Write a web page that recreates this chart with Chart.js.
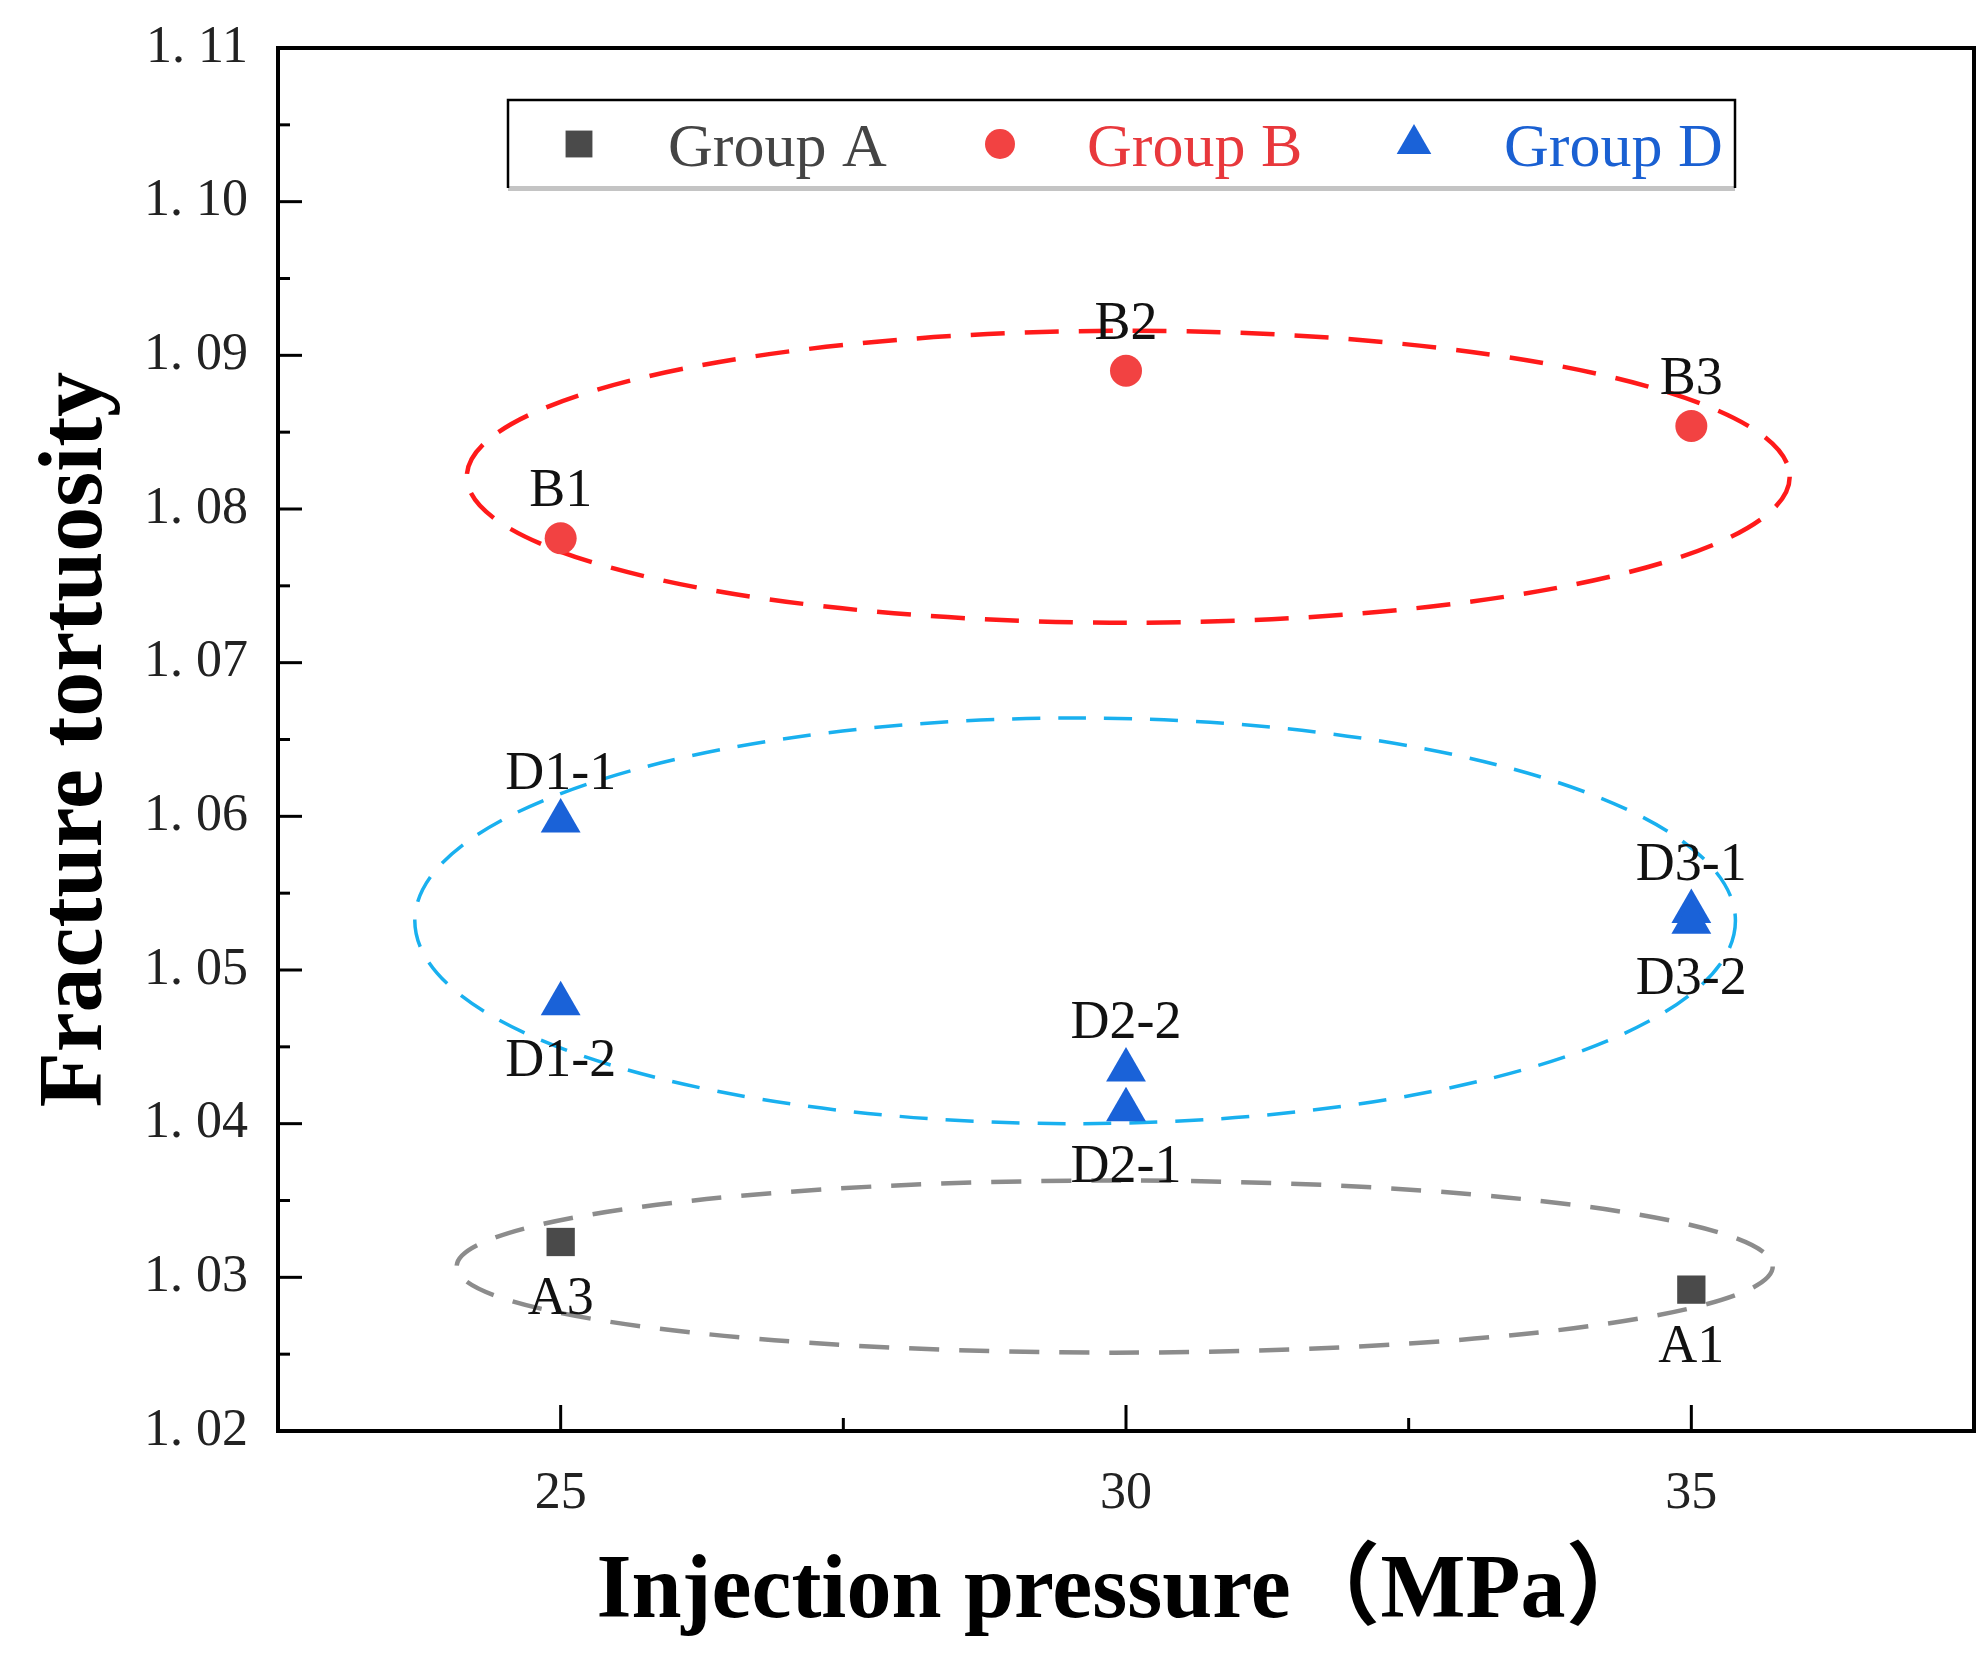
<!DOCTYPE html>
<html><head><meta charset="utf-8">
<script src="https://cdn.jsdelivr.net/npm/chart.js@4.4.1/dist/chart.umd.min.js"></script>
<style>html,body{margin:0;padding:0;background:#fff;} #wrap{width:1987px;height:1658px;}</style>
</head><body><div id="wrap"><canvas id="c" width="1987" height="1658"></canvas></div>
<script>
// ---- data ----
const yTickValues = [1.02, 1.03, 1.04, 1.05, 1.06, 1.07, 1.08, 1.09, 1.10, 1.11];
const xTickValues = [25, 30, 35];
const xMin = 22.5, xMax = 37.5;

const aPressure = [35, 25];
const aTortuosity = [1.0292, 1.0323];
const aNames = ['A1', 'A3'];
const aSides = ['below', 'below'];

const bPressure = [25, 30, 35];
const bTortuosity = [1.0781, 1.0890, 1.0854];
const bNames = ['B1', 'B2', 'B3'];
const bSides = ['above', 'above', 'above'];

const dPressure = [25, 25, 30, 30, 35, 35];
const dTortuosity = [1.0597, 1.0478, 1.0409, 1.0435, 1.0538, 1.0531];
const dNames = ['D1-1', 'D1-2', 'D2-1', 'D2-2', 'D3-1', 'D3-2'];
const dSides = ['above', 'below', 'below', 'above', 'above', 'below'];

// grouping ellipses (gray A, red B, cyan D)
const ellipseCenterX = [29.90, 30.02, 29.55];
const ellipseCenterY = [1.0307, 1.0821, 1.0532];
const ellipseRadiusX = [5.82, 5.85, 5.84];
const ellipseRadiusY = [0.0056, 0.0095, 0.0132];

// ---- styles ----
const SERIF = "'Liberation Serif', 'Times New Roman', 'Noto Sans CJK SC', serif";
const ellipseColors = ['#8c8c8c', '#ff1a1a', '#19b0ef'];
const ellipseDash = [[30, 20], [34, 20], [28, 18]];
const ellipseWidth = [4.5, 4.5, 3.5];

function pts(xs, ys) { return xs.map((x, i) => ({ x: x, y: ys[i] })); }

const ellipsePlugin = {
  id: 'ellipses',
  beforeDatasetsDraw(chart) {
    const ctx = chart.ctx, xs = chart.scales.x, ys = chart.scales.y;
    ctx.save();
    for (let i = 0; i < ellipseCenterX.length; i++) {
      const cx = xs.getPixelForValue(ellipseCenterX[i]);
      const cy = ys.getPixelForValue(ellipseCenterY[i]);
      const rx = Math.abs(xs.getPixelForValue(ellipseCenterX[i] + ellipseRadiusX[i]) - cx);
      const ry = Math.abs(ys.getPixelForValue(ellipseCenterY[i] + ellipseRadiusY[i]) - cy);
      ctx.beginPath();
      ctx.setLineDash(ellipseDash[i]);
      ctx.lineWidth = ellipseWidth[i];
      ctx.strokeStyle = ellipseColors[i];
      ctx.ellipse(cx, cy, rx, ry, 0, 0, Math.PI * 2);
      ctx.stroke();
    }
    ctx.restore();
  }
};

const framePlugin = {
  id: 'frame',
  afterDraw(chart) {
    const ctx = chart.ctx, a = chart.chartArea, xs = chart.scales.x, ys = chart.scales.y;
    ctx.save();
    ctx.strokeStyle = '#000';
    ctx.lineWidth = 4;
    ctx.setLineDash([]);
    ctx.strokeRect(a.left, a.top, a.right - a.left, a.bottom - a.top);
    ctx.lineWidth = 3;
    // y ticks (inward)
    ys.ticks.forEach((t, i) => {
      const y = ys.getPixelForValue(t.value);
      ctx.beginPath(); ctx.moveTo(a.left, y); ctx.lineTo(a.left + 24, y); ctx.stroke();
      if (i < ys.ticks.length - 1) {
        const ym = ys.getPixelForValue((t.value + ys.ticks[i + 1].value) / 2);
        ctx.beginPath(); ctx.moveTo(a.left, ym); ctx.lineTo(a.left + 12, ym); ctx.stroke();
      }
    });
    // x ticks (inward) with minor ticks half-way
    xs.ticks.forEach(t => {
      const x = xs.getPixelForValue(t.value);
      ctx.beginPath(); ctx.moveTo(x, a.bottom); ctx.lineTo(x, a.bottom - 26); ctx.stroke();
    });
    for (let i = 1; i < xs.ticks.length; i++) {
      const xm = xs.getPixelForValue((xs.ticks[i - 1].value + xs.ticks[i].value) / 2);
      ctx.beginPath(); ctx.moveTo(xm, a.bottom); ctx.lineTo(xm, a.bottom - 13); ctx.stroke();
    }
    ctx.restore();
  }
};

const labelPlugin = {
  id: 'pointLabels',
  afterDatasetsDraw(chart) {
    const ctx = chart.ctx;
    ctx.save();
    ctx.font = '54px ' + SERIF;
    ctx.fillStyle = '#111';
    ctx.textAlign = 'center';
    ctx.textBaseline = 'alphabetic';
    chart.data.datasets.forEach((ds, di) => {
      const meta = chart.getDatasetMeta(di);
      meta.data.forEach((el, i) => {
        const side = ds.labelSides[i];
        const y = side === 'above' ? el.y - 32 : el.y + 72;
        ctx.fillText(ds.pointNames[i], el.x, y);
      });
    });
    ctx.restore();
  }
};

const legendPlugin = {
  id: 'boxLegend',
  afterDraw(chart) {
    const ctx = chart.ctx;
    const bx = 508, by = 100, bw = 1227, bh = 88;
    ctx.save();
    ctx.fillStyle = '#c4c4c4';
    ctx.fillRect(bx, by + bh - 2, bw, 5);
    ctx.strokeStyle = '#000';
    ctx.lineWidth = 2.5;
    ctx.setLineDash([]);
    ctx.beginPath();
    ctx.moveTo(bx, by + bh); ctx.lineTo(bx, by); ctx.lineTo(bx + bw, by); ctx.lineTo(bx + bw, by + bh);
    ctx.stroke();
    const markerX = [579, 1000, 1414];
    const textX = [668, 1087, 1504];
    const textColors = ['#444444', '#e8383c', '#1a60d2'];
    const legendRadius = [19, 15, 20];
    chart.data.datasets.forEach((ds, i) => {
      ctx.fillStyle = ds.backgroundColor;
      ctx.strokeStyle = ds.backgroundColor;
      Chart.helpers.drawPoint(ctx, { pointStyle: ds.pointStyle, radius: legendRadius[i], borderWidth: 0, rotation: 0 }, markerX[i], 144);
      ctx.font = '62px ' + SERIF;
      ctx.fillStyle = textColors[i];
      ctx.textAlign = 'left';
      ctx.textBaseline = 'alphabetic';
      ctx.fillText(ds.label, textX[i], 166);
    });
    ctx.restore();
  }
};

new Chart(document.getElementById('c'), {
  type: 'scatter',
  data: {
    datasets: [
      { label: 'Group A', data: pts(aPressure, aTortuosity), pointNames: aNames, labelSides: aSides,
        pointStyle: 'rect', radius: 20, backgroundColor: '#4a4a4a', borderColor: '#4a4a4a', borderWidth: 0 },
      { label: 'Group B', data: pts(bPressure, bTortuosity), pointNames: bNames, labelSides: bSides,
        pointStyle: 'circle', radius: 16, backgroundColor: '#f24242', borderColor: '#f24242', borderWidth: 0 },
      { label: 'Group D', data: pts(dPressure, dTortuosity), pointNames: dNames, labelSides: dSides,
        pointStyle: 'triangle', radius: 23, backgroundColor: '#1a62d8', borderColor: '#1a62d8', borderWidth: 0 }
    ]
  },
  options: {
    responsive: false,
    devicePixelRatio: 1,
    animation: false,
    layout: { autoPadding: false, padding: { top: 48, right: 13, left: 0, bottom: 0 } },
    plugins: { legend: { display: false }, tooltip: { enabled: false } },
    scales: {
      x: {
        type: 'linear', min: xMin, max: xMax,
        afterBuildTicks: s => { s.ticks = xTickValues.map(v => ({ value: v })); },
        afterFit: s => { s.height = 227; s.paddingLeft = 0; s.paddingRight = 0; },
        grid: { display: false, drawTicks: false },
        border: { display: false },
        ticks: { font: { family: SERIF, size: 52 }, color: '#222', padding: 32, maxRotation: 0, autoSkip: false,
                 callback: v => String(v) },
        title: { display: true, text: 'Injection pressure（MPa）', color: '#000',
                 font: { family: SERIF, size: 90, weight: 'bold', lineHeight: 1 }, padding: { top: 0, bottom: 19 } }
      },
      y: {
        type: 'linear', min: yTickValues[0], max: yTickValues[yTickValues.length - 1],
        afterBuildTicks: s => { s.ticks = yTickValues.map(v => ({ value: v })); },
        afterFit: s => { s.width = 278; s.paddingTop = 0; s.paddingBottom = 0; },
        grid: { display: false, drawTicks: false },
        border: { display: false },
        ticks: { font: { family: SERIF, size: 52 }, color: '#222', padding: 30, autoSkip: false,
                 callback: v => Number(v).toFixed(2).replace('.', '. ') },
        title: { display: true, text: 'Fracture tortuosity', color: '#000',
                 font: { family: SERIF, size: 90, weight: 'bold', lineHeight: 1 }, padding: { top: 33, bottom: 0 } }
      }
    }
  },
  plugins: [ellipsePlugin, labelPlugin, framePlugin, legendPlugin]
});
</script></body></html>
